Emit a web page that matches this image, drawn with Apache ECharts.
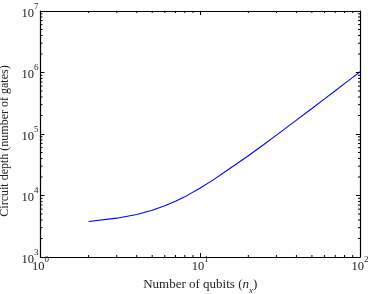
<!DOCTYPE html>
<html>
<head>
<meta charset="utf-8">
<script src="https://cdn.jsdelivr.net/npm/echarts@6/dist/echarts.min.js"></script>
<style>html,body{margin:0;padding:0;background:#fff}#c{width:374px;height:294px}</style>
</head>
<body>
<div id="c"></div>
<script>
// Data
var qubits = [2, 3, 4, 5, 6, 7, 8, 10, 12, 15, 20, 25, 30, 40, 50, 60, 70, 80, 90, 100];
var depth = [3780, 4280, 4920, 5750, 6800, 8050, 9500, 13200, 17800, 26500, 44400, 67600, 96000, 168000, 260000, 372000, 506000, 660000, 834000, 1030000];
var xTickLabels = ['10{s|0}', '10{s|1}', '10{s|2}'];
var yTickLabels = ['10{s|3}', '10{s|4}', '10{s|5}', '10{s|6}', '10{s|7}'];
var xName = '{t|Number of qubits (}{i|n}{sub|x}{t|)}';
var yName = 'Circuit depth (number of gates)';

var FONT = 'Liberation Serif';
var TXT = '#222';
var FS = 12.5;
var rich = {
  b: {fontFamily: FONT, fontSize: FS, color: TXT, lineHeight: 18, verticalAlign: 'bottom'},
  s: {fontFamily: FONT, fontSize: 9, color: TXT, lineHeight: 18, verticalAlign: 'top'}
};
function expOf(v) { return Math.round(Math.log(v) / Math.LN10); }
function xLab(v) { var e = expOf(v); return '{b|10}' + xTickLabels[e].slice(2); }
function yLab(v) { var e = expOf(v) - 3; return '{b|10}' + yTickLabels[e].slice(2); }

// minor tick positions (2..9 per decade)
function minors(lo, hi) {
  var out = [];
  for (var d = lo; d < hi; d++) for (var k = 2; k <= 9; k++) out.push(k * Math.pow(10, d));
  return out;
}
var xMinor = minors(0, 2), yMinor = minors(3, 7);

var chart = echarts.init(document.getElementById('c'), null, {renderer: 'canvas'});
var common = {
  type: 'log', logBase: 10,
  axisLine: {show: true, lineStyle: {color: '#000', width: 1.2}},
  axisTick: {show: true, inside: true, length: 4, lineStyle: {color: '#000', width: 1}},
  splitLine: {show: false},
  minorTick: {show: false}
};
var option = {
  animation: false,
  backgroundColor: '#fff',
  grid: {left: 40.5, right: 14, top: 11, bottom: 37, containLabel: false, outerBoundsMode: 'none', show: false},
  xAxis: [
    Object.assign({}, common, {
      min: 1, max: 100, position: 'bottom',
      name: xName, nameLocation: 'middle', nameGap: 17,
      nameTextStyle: {fontFamily: FONT, fontSize: 13, color: TXT, rich: {
        t: {fontFamily: FONT, fontSize: 13, color: TXT, lineHeight: 17, verticalAlign: 'top'},
        i: {fontFamily: FONT, fontStyle: 'italic', fontSize: 13, color: TXT, lineHeight: 17, verticalAlign: 'top'},
        sub: {fontFamily: FONT, fontStyle: 'italic', fontSize: 9, color: TXT, lineHeight: 17, verticalAlign: 'bottom'}
      }},
      axisLabel: {show: true, margin: -1.5, formatter: xLab, rich: rich}
    }),
    Object.assign({}, common, {
      min: 1, max: 100, position: 'top', axisLabel: {show: false}
    })
  ],
  yAxis: [
    Object.assign({}, common, {
      min: 1000, max: 10000000, position: 'left',
      name: yName, nameLocation: 'middle', nameGap: 27,
      nameTextStyle: {fontFamily: FONT, fontSize: 12, color: TXT, padding: [0, 14, 0, 0]},
      axisLabel: {show: true, margin: 2, formatter: yLab, rich: rich}
    }),
    Object.assign({}, common, {
      min: 1000, max: 10000000, position: 'right', axisLabel: {show: false}
    })
  ],
  series: [
    {
      type: 'line', xAxisIndex: 0, yAxisIndex: 0,
      data: qubits.map(function (q, i) { return [q, depth[i]]; }),
      showSymbol: false, smooth: false,
      lineStyle: {color: '#0000ff', width: 1.1},
      z: 5
    },
    {
      type: 'custom', xAxisIndex: 0, yAxisIndex: 0, silent: true,
      data: xMinor.map(function (v) { return [v, 1000]; }),
      renderItem: function (params, api) {
        var p = api.coord([api.value(0), 1000]);
        var t = api.coord([api.value(0), 10000000]);
        return {type: 'group', children: [
          {type: 'line', shape: {x1: p[0], y1: p[1], x2: p[0], y2: p[1] - 2}, style: {stroke: '#000', lineWidth: 1}},
          {type: 'line', shape: {x1: t[0], y1: t[1], x2: t[0], y2: t[1] + 2}, style: {stroke: '#000', lineWidth: 1}}
        ]};
      }
    },
    {
      type: 'custom', xAxisIndex: 0, yAxisIndex: 0, silent: true,
      data: yMinor.map(function (v) { return [1, v]; }),
      renderItem: function (params, api) {
        var p = api.coord([1, api.value(1)]);
        var t = api.coord([100, api.value(1)]);
        return {type: 'group', children: [
          {type: 'line', shape: {x1: p[0], y1: p[1], x2: p[0] + 2, y2: p[1]}, style: {stroke: '#000', lineWidth: 1}},
          {type: 'line', shape: {x1: t[0], y1: t[1], x2: t[0] - 2, y2: t[1]}, style: {stroke: '#000', lineWidth: 1}}
        ]};
      }
    }
  ]
};
chart.setOption(option);
</script>
</body>
</html>
